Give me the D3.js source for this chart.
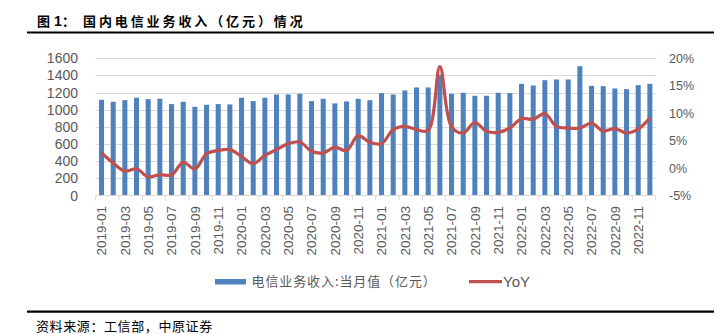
<!DOCTYPE html>
<html><head><meta charset="utf-8">
<script src="https://cdn.jsdelivr.net/npm/d3@7"></script>
<style>body{margin:0;background:#fff}svg{display:block}</style>
</head><body><svg id="c" width="726" height="334"></svg>
<script>
const months = [
 "2019-01","2019-02","2019-03","2019-04","2019-05","2019-06","2019-07","2019-08","2019-09","2019-10","2019-11","2019-12",
 "2020-01","2020-02","2020-03","2020-04","2020-05","2020-06","2020-07","2020-08","2020-09","2020-10","2020-11","2020-12",
 "2021-01","2021-02","2021-03","2021-04","2021-05","2021-06","2021-07","2021-08","2021-09","2021-10","2021-11","2021-12",
 "2022-01","2022-02","2022-03","2022-04","2022-05","2022-06","2022-07","2022-08","2022-09","2022-10","2022-11","2022-12"];
const revenue = [
 1116,1093,1112,1140,1124,1128,1066,1093,1035,1058,1066,1062,
 1140,1101,1140,1178,1178,1186,1101,1128,1074,1097,1128,1112,
 1194,1178,1225,1260,1260,1407,1186,1198,1163,1163,1198,1194,
 1302,1283,1345,1353,1353,1508,1279,1275,1248,1240,1287,1302];
const yoy = [
 2.75,0.93,-0.58,-0.16,-1.6,-1.2,-1.25,1.05,-0.16,2.6,3.2,3.35,
 2.1,0.8,2.3,3.35,4.45,4.75,3.05,2.75,3.8,3.2,5.9,4.7,
 4.45,7.0,7.6,7.0,6.85,18.5,7.5,6.4,8.3,6.7,6.5,7.3,
 9.0,8.9,9.9,7.6,7.3,7.3,8.2,6.75,7.2,6.4,7.1,9.1];
const leftTicks = [0,200,400,600,800,1000,1200,1400,1600];
const rightTicks = [-5,0,5,10,15,20];
const seriesNames = ["电信业务收入:当月值（亿元）","YoY"];

const svg = d3.select("#c");
svg.append("rect").attr("width",726).attr("height",334).attr("fill","#fff");

const L = 95.7, R = 655.7, B = 195.5, T = 58.3;
const x = d3.scaleBand().domain(months).range([L,R]).paddingInner(0.57).paddingOuter(0.285);
const yL = d3.scaleLinear().domain([0,1600]).range([B,T]);
const yR = d3.scaleLinear().domain([-5,20]).range([B,T]);
const step = x.step();
const axisFont = "'Liberation Sans', Arial, sans-serif";
const grey = "#595959";

// title
const tg = svg.append("g").attr("font-family","'Noto Sans CJK SC', sans-serif").attr("font-weight","bold").attr("font-size",13).attr("fill","#000");
tg.append("text").attr("x",37).attr("y",25.5).text("图");
tg.append("text").attr("x",54).attr("y",25.5).attr("font-family","'Liberation Sans', Arial, sans-serif").attr("font-size",14).text("1");
tg.append("text").attr("x",62).attr("y",25.5).text("：");
tg.append("text").attr("x",83).attr("y",25.5).attr("letter-spacing",2.9).text("国内电信业务收入（亿元）情况");
svg.append("line").attr("x1",27).attr("x2",714).attr("y1",32.5).attr("y2",32.5).attr("stroke","#000").attr("stroke-width",2.2);

// gridlines
svg.append("g").selectAll("line").data(leftTicks.slice(1)).join("line")
  .attr("x1",L).attr("x2",R).attr("y1",d=>Math.round(yL(d))+0.5).attr("y2",d=>Math.round(yL(d))+0.5)
  .attr("stroke","#D9D9D9").attr("stroke-width",1);

// left axis labels
svg.append("g").selectAll("text").data(leftTicks).join("text")
  .attr("x",78).attr("y",d=>yL(d)).attr("dy","0.36em").attr("text-anchor","end")
  .attr("font-family",axisFont).attr("font-size",14).attr("fill",grey).text(d=>d);
// right axis labels
svg.append("g").selectAll("text").data(rightTicks).join("text")
  .attr("x",669).attr("y",d=>yR(d)).attr("dy","0.36em").attr("text-anchor","start")
  .attr("font-family",axisFont).attr("font-size",12.5).attr("fill",grey).text(d=>d+"%");

// bars
svg.append("g").selectAll("rect").data(months).join("rect")
  .attr("x",(d)=>x(d)).attr("width",x.bandwidth())
  .attr("y",(d,i)=>yL(revenue[i])).attr("height",(d,i)=>B-yL(revenue[i]))
  .attr("fill","#4F81BD");

// x axis
svg.append("line").attr("x1",L).attr("x2",R).attr("y1",B).attr("y2",B).attr("stroke","#D9D9D9").attr("stroke-width",1);
const tickIdx = d3.range(0, months.length+1, 2);
svg.append("g").selectAll("line").data(tickIdx).join("line")
  .attr("x1",i=>L+i*step).attr("x2",i=>L+i*step).attr("y1",B).attr("y2",B+5)
  .attr("stroke","#D9D9D9").attr("stroke-width",1);
svg.append("g").selectAll("text").data(months.filter((d,i)=>i%2===0)).join("text")
  .attr("transform",d=>`translate(${x(d)+x.bandwidth()/2+4.8},206) rotate(-90)`)
  .attr("text-anchor","end").attr("font-family",axisFont).attr("font-size",13.5).attr("fill",grey).text(d=>d);

// line
const line = d3.line().x((d,i)=>x(months[i])+x.bandwidth()/2).y(d=>yR(d)).curve(d3.curveCatmullRom.alpha(0.5));
svg.append("path").attr("d",line(yoy)).attr("fill","none").attr("stroke","#C0504D").attr("stroke-width",3.2).attr("stroke-linejoin","round");

// legend
svg.append("rect").attr("x",215).attr("y",279).attr("width",31).attr("height",5.5).attr("fill","#4F81BD");
svg.append("text").attr("x",251.5).attr("y",281.5).attr("dy","0.36em").attr("font-family","'Noto Sans CJK SC', sans-serif")
  .attr("font-size",13).attr("letter-spacing",0.9).attr("fill",grey).text(seriesNames[0]);
svg.append("line").attr("x1",469).attr("x2",502).attr("y1",281.7).attr("y2",281.7).attr("stroke","#C0504D").attr("stroke-width",3.2);
svg.append("text").attr("x",503).attr("y",281.5).attr("dy","0.36em").attr("font-family",axisFont)
  .attr("font-size",15).attr("fill",grey).text(seriesNames[1]);

// source
svg.append("line").attr("x1",27).attr("x2",714).attr("y1",311.7).attr("y2",311.7).attr("stroke","#000").attr("stroke-width",2.2);
svg.append("text").attr("x",36).attr("y",326.5).attr("dy","0.36em").attr("font-family","'Noto Sans CJK SC', sans-serif")
  .attr("font-size",13).attr("letter-spacing",0.6).attr("fill","#000").text("资料来源：工信部，中原证券");
</script></body></html>
